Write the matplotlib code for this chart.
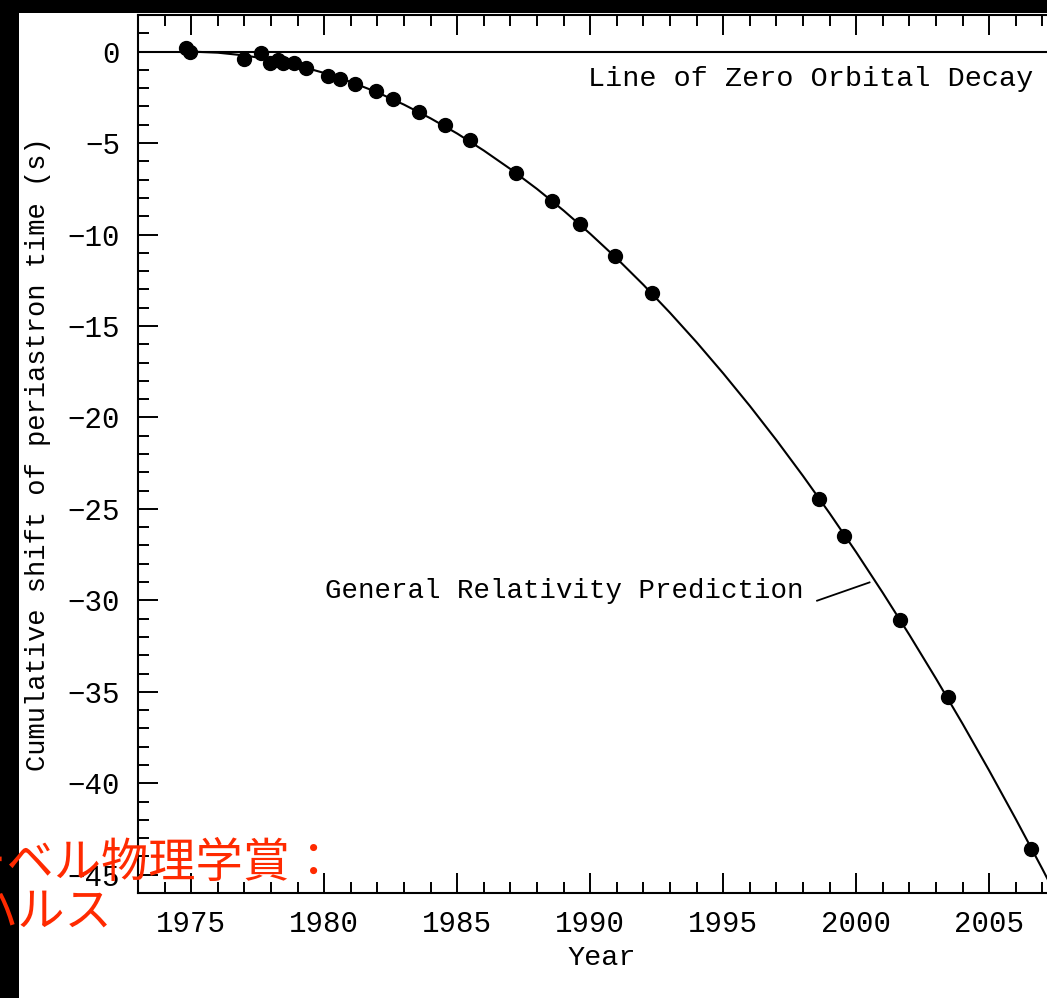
import matplotlib
matplotlib.use("Agg")
import matplotlib.pyplot as plt
from matplotlib.patches import Rectangle
from matplotlib.ticker import MultipleLocator

# measured periastron shifts (year, seconds)
obs_year = [1974.81, 1974.97, 1976.97, 1977.61, 1977.95, 1978.26, 1978.45, 1978.85,
            1979.33, 1980.14, 1980.58, 1981.15, 1981.96, 1982.59, 1983.55, 1984.53,
            1985.47, 1987.21, 1988.55, 1989.61, 1990.93, 1992.34, 1998.59, 1999.55,
            2001.63, 2003.45, 2006.59]
obs_shift = [0.19, 0.0, -0.40, -0.09, -0.63, -0.45, -0.60, -0.63,
             -0.91, -1.33, -1.51, -1.77, -2.15, -2.58, -3.31, -4.04,
             -4.83, -6.62, -8.16, -9.43, -11.20, -13.20, -24.44, -26.46,
             -31.05, -35.28, -43.62]

# general relativity prediction
gr_year = [1974.8, 1975, 1976, 1977, 1978, 1979, 1980, 1981, 1982, 1983, 1984,
           1985, 1986, 1987, 1988, 1989, 1990, 1991, 1992, 1993, 1994, 1995,
           1996, 1997, 1998, 1999, 2000, 2001, 2002, 2003, 2004, 2005, 2006,
           2007, 2008]
gr_shift = [0.0, 0.0, -0.06, -0.21, -0.44, -0.76, -1.17, -1.66, -2.23, -2.90, -3.65,
            -4.48, -5.41, -6.42, -7.51, -8.69, -9.96, -11.31, -12.75, -14.28, -15.89,
            -17.59, -19.37, -21.24, -23.20, -25.24, -27.37, -29.59, -31.89, -34.28,
            -36.75, -39.31, -41.96, -44.69, -47.51]

# pointer from the label to the curve
pointer_x = [1998.53, 2000.50]
pointer_y = [-30.02, -29.02]

W, H = 1047, 998
mono = "Liberation Mono"

fig = plt.figure(figsize=(W / 100, H / 100), dpi=100, facecolor="black")
# white page with black strips on top and left
fig.add_artist(Rectangle((19 / W, 0), 1, (H - 13) / H, transform=fig.transFigure,
                         facecolor="white", edgecolor="none", zorder=-5))

ax = fig.add_axes([138 / W, (H - 893) / H, 931 / W, 878 / H])
ax.set_xlim(1973, 2008)
ax.set_ylim(-46, 2)

ax.axhline(0, color="black", lw=1.5)
ax.plot(gr_year, gr_shift, color="black", lw=1.5)
ax.plot(obs_year, obs_shift, "o", color="black", ms=10, mec="black")
ax.plot(pointer_x, pointer_y, color="black", lw=1.3)

ax.text(2006.65, -1.49, "Line of Zero Orbital Decay", ha="right", va="center",
        fontsize=20.5, family=mono)
ax.text(1980.04, -29.5, "General Relativity Prediction", ha="left", va="center",
        fontsize=19.8, family=mono)

ax.xaxis.set_major_locator(MultipleLocator(5))
ax.xaxis.set_minor_locator(MultipleLocator(1))
ax.yaxis.set_major_locator(MultipleLocator(5))
ax.yaxis.set_minor_locator(MultipleLocator(1))
ax.tick_params(which="both", direction="in", top=True, right=True, width=1.4,
               labelsize=21)
ax.tick_params(which="major", length=14.5)
ax.tick_params(which="minor", length=8)
ax.tick_params(axis="x", pad=12)
ax.tick_params(axis="y", pad=13)
for lab in ax.get_xticklabels() + ax.get_yticklabels():
    lab.set_family(mono)
for sp in ax.spines.values():
    sp.set_linewidth(1.5)

ax.set_xlabel("Year", fontsize=20.5, family=mono)
ax.xaxis.set_label_coords(0.498, -0.059)
ax.set_ylabel("Cumulative shift of periastron time (s)", fontsize=19.5, family=mono)
ax.yaxis.label.set_va("center")
ax.yaxis.set_label_coords(-0.107, 0.50)

# red caption partly cut off at the left edge
red = "#ff2a00"
cjk = ["Noto Sans CJK JP", "DejaVu Sans"]
fig.text(-88 / W, 1 - 864 / H, "ノーベル物理学賞：", color=red, fontsize=34,
         family=cjk, ha="left", va="center")
fig.text(-30 / W, 1 - 912 / H, "ハルス", color=red, fontsize=34,
         family=cjk, ha="left", va="center")

fig.savefig("out.png", dpi=100, facecolor=fig.get_facecolor())
